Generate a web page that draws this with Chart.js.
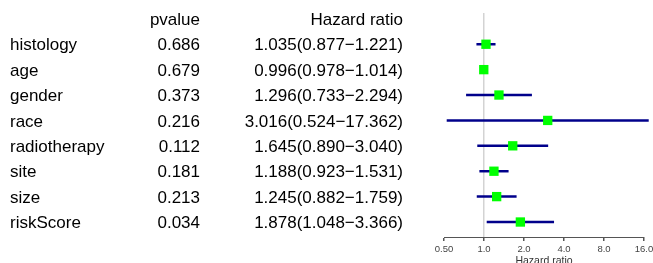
<!DOCTYPE html>
<html>
<head>
<meta charset="utf-8">
<script src="https://cdn.jsdelivr.net/npm/chart.js@4/dist/chart.umd.min.js"></script>
<style>
    html, body { margin: 0; padding: 0; background: #fff; }
    #wrap { width: 653px; height: 263px; }
</style>
</head>
<body>
<div id="wrap"><canvas id="forestChart"></canvas></div>
<script>
const variables = ['histology', 'age', 'gender', 'race', 'radiotherapy', 'site', 'size', 'riskScore'];
const pValues = ['0.686', '0.679', '0.373', '0.216', '0.112', '0.181', '0.213', '0.034'];
const hazardRatio = [1.035, 0.996, 1.296, 3.016, 1.645, 1.188, 1.245, 1.878];
const lowerCI = [0.877, 0.978, 0.733, 0.524, 0.890, 0.923, 0.882, 1.048];
const upperCI = [1.221, 1.014, 2.294, 17.362, 3.040, 1.531, 1.759, 3.366];
const tickValues = [0.5, 1, 2, 4, 8, 16];
const tickLabels = ['0.50', '1.0', '2.0', '4.0', '8.0', '16.0'];

const TEXT_FONT = '17px "Liberation Sans", Arial, sans-serif';

// text table on the left (names, p-values, HR with CI)
const tablePlugin = {
    id: 'forestTable',
    afterDraw(chart) {
        const ctx = chart.ctx;
        const y = chart.scales.y;
        ctx.save();
        ctx.font = TEXT_FONT;
        ctx.fillStyle = '#000';
        ctx.textBaseline = 'middle';

        const headY = y.getPixelForValue(-1) + 1;
        ctx.textAlign = 'right';
        ctx.fillText('pvalue', 200, headY);
        ctx.fillText('Hazard ratio', 403, headY);

        variables.forEach((name, i) => {
            const py = y.getPixelForValue(i) + 1.5;
            ctx.textAlign = 'left';
            ctx.fillText(name, 10, py);
            ctx.textAlign = 'right';
            ctx.fillText(pValues[i], 200, py);
            const hrText = hazardRatio[i].toFixed(3) + '(' + lowerCI[i].toFixed(3) + '\u2212' + upperCI[i].toFixed(3) + ')';
            ctx.fillText(hrText, 403, py);
        });
        ctx.restore();
    }
};

const ciDatasets = variables.map((name, i) => ({
    type: 'line',
    label: name,
    data: [{ x: lowerCI[i], y: i }, { x: upperCI[i], y: i }],
    borderColor: '#00008B',
    borderWidth: 2.5,
    pointRadius: 0,
    order: 2,
    clip: false
}));

const ctx = document.getElementById('forestChart').getContext('2d');
new Chart(ctx, {
    type: 'scatter',
    data: {
        datasets: [
            ...ciDatasets,
            {
                type: 'scatter',
                label: 'HR',
                data: hazardRatio.map((hr, i) => ({ x: hr, y: i })),
                pointStyle: 'rect',
                pointRadius: 6.6,
                pointBackgroundColor: '#00FF00',
                pointBorderWidth: 0,
                order: 1,
                clip: false
            }
        ]
    },
    options: {
        responsive: true,
        maintainAspectRatio: false,
        animation: false,
        layout: {
            padding: { left: 444, right: 9, top: 13, bottom: 0 }
        },
        plugins: {
            legend: { display: false },
            tooltip: { enabled: false }
        },
        scales: {
            x: {
                type: 'logarithmic',
                min: 0.5,
                max: 16,
                afterBuildTicks: function(scale) {
                    scale.ticks = tickValues.map(v => ({ value: v }));
                },
                afterFit: function(scale) {
                    scale.height = 26;
                    scale.paddingLeft = 0;
                    scale.paddingRight = 0;
                },
                ticks: {
                    autoSkip: false,
                    maxRotation: 0,
                    padding: 3,
                    color: '#444',
                    font: { family: '"Liberation Sans", Arial, sans-serif', size: 9.5 },
                    callback: function(value) {
                        const idx = tickValues.indexOf(value);
                        return idx >= 0 ? tickLabels[idx] : '';
                    }
                },
                grid: {
                    color: function(c) {
                        return c.tick && c.tick.value === 1 ? '#d3d3d3' : 'rgba(0,0,0,0)';
                    },
                    lineWidth: 1.5,
                    tickColor: '#555',
                    tickLength: 4
                },
                border: { color: '#555', width: 1 },
                title: {
                    display: true,
                    text: 'Hazard ratio',
                    color: '#333',
                    padding: { top: 0, bottom: -4 },
                    font: { family: '"Liberation Sans", Arial, sans-serif', size: 10.5 }
                }
            },
            y: {
                type: 'linear',
                reverse: true,
                min: -1.23,
                max: 7.59,
                display: false
            }
        }
    },
    plugins: [tablePlugin]
});
</script>
</body>
</html>
